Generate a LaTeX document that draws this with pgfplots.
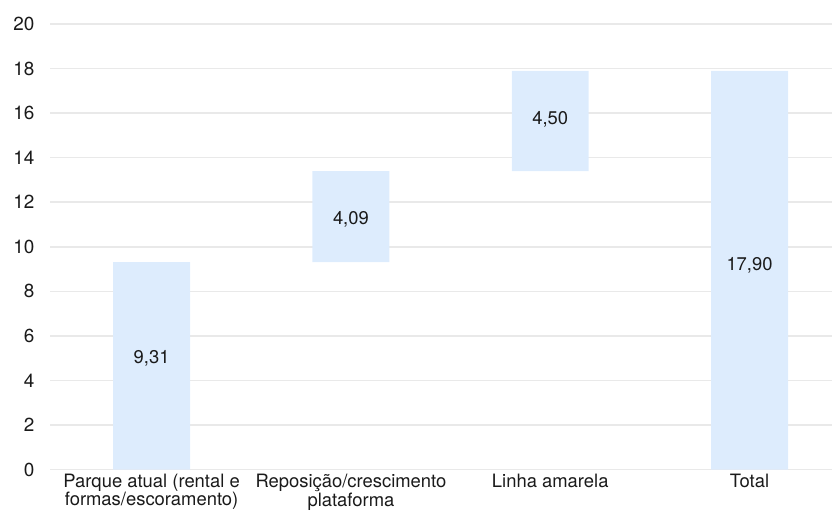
\documentclass[border=0pt]{standalone}
\usepackage{pgfplots}
\pgfplotsset{compat=1.18}
\usepackage{fontspec}
\setmainfont{TeX Gyre Heros}
\definecolor{barblue}{HTML}{DDECFD}
\definecolor{gridgray}{HTML}{E9E9E9}
\definecolor{txt}{HTML}{1A1A1A}
\pgfplotsset{chartbox/.style={x=199.5bp, y=22.3bp,
    xmin=-0.51, xmax=3.415, ymin=0, ymax=20}}
\begin{document}
\begin{tikzpicture}
\begin{axis}[
    chartbox,
    ybar stacked, bar width=77bp,
    ytick={0,2,...,20},
    xtick={0,1,2,3},
    xticklabels={{Parque atual (rental e\\formas/escoramento)},{Reposição/crescimento\\plataforma},{Linha amarela},{Total}},
    x tick label style={align=center, font=\fontsize{18.5}{17.5}\selectfont, text=txt, yshift=-1bp},
    y tick label style={font=\fontsize{19}{18}\selectfont, text=txt, xshift=-12bp},
    ymajorgrids, grid style={gridgray, line width=1.5bp},
    axis line style={draw=none},
    major tick length=0pt,
    /pgf/number format/assume math mode=true,
]
\addplot[draw=none, fill=none] coordinates {(0,0) (1,9.31) (2,13.40) (3,0)};
\addplot[draw=none, fill=barblue] coordinates {(0,9.31) (1,4.09) (2,4.50) (3,17.90)};
\end{axis}
% value labels
\begin{axis}[chartbox, hide axis]
\addplot[only marks, mark=none, point meta=explicit symbolic,
    nodes near coords,
    every node near coord/.append style={anchor=center, font=\fontsize{18.5}{18}\selectfont, text=txt}]
    coordinates {(0,4.98)[9,31] (1,11.21)[4,09] (2,15.74)[4,50] (3,9.16)[17,90]};
\end{axis}
\path ([shift={(-50bp,-49bp)}]current axis.south west) rectangle ([shift={(0bp,24bp)}]current axis.north east);
\end{tikzpicture}
\end{document}
